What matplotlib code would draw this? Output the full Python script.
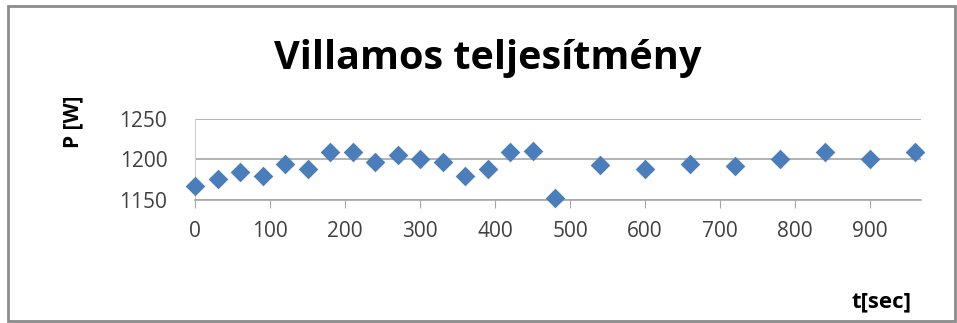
import matplotlib

matplotlib.use("Agg")

import matplotlib.pyplot as plt  # noqa: E402
from matplotlib.patches import Rectangle  # noqa: E402

# mérési adatok
t_sec = [0, 30, 60, 90, 120, 150, 180, 210, 240, 270, 300, 330, 360, 390,
         420, 450, 480, 540, 600, 660, 720, 780, 840, 900, 960]
p_watt = [1167, 1176, 1184, 1180, 1194, 1188, 1209, 1209, 1197, 1206, 1200,
          1197, 1180, 1188, 1209, 1210, 1153, 1193, 1188, 1194, 1192, 1200,
          1209, 1200, 1209]
x_ticks = [0, 100, 200, 300, 400, 500, 600, 700, 800, 900]
y_ticks = [1150, 1200, 1250]

_BLUE = "#4a7ebb"
_GRID = "#a6a6a6"
_TICK = "#404040"

plt.rcParams["font.family"] = ["Open Sans", "DejaVu Sans"]

fig = plt.figure(figsize=(9.57, 3.23), dpi=100)
ax = fig.add_axes([195 / 957, 1 - 200 / 323, (921 - 195) / 957, 81 / 323])

ax.scatter(t_sec, p_watt, marker="D", s=100, color=_BLUE, zorder=3,
           linewidths=0, clip_on=False)

ax.set_xlim(0, 968)
ax.set_ylim(1150, 1250)
ax.set_xticks(x_ticks)
ax.set_yticks(y_ticks)
ax.grid(axis="y", color=_GRID, linewidth=1.2)
for s in ("top", "right"):
    ax.spines[s].set_visible(False)
ax.spines["left"].set_color("#d0d0d0")
ax.spines["bottom"].set_color(_GRID)
ax.spines["bottom"].set_linewidth(1.2)
ax.tick_params(axis="x", direction="out", length=6, color=_GRID,
               labelsize=15, labelcolor=_TICK, pad=9)
ax.tick_params(axis="y", length=0, labelsize=15, labelcolor=_TICK, pad=20)

fig.text(488 / 957, 1 - 58 / 323, "Villamos teljesítmény", ha="center",
         va="center", fontsize=28.5, fontweight="bold")
fig.text(73 / 957, 1 - 122 / 323, "P [W]", ha="center", va="center",
         rotation=90, fontsize=15, fontweight="bold")
fig.text(882 / 957, 1 - 302 / 323, "t[sec]", ha="center", va="center",
         fontsize=16, fontweight="bold")

fig.patches.append(Rectangle((8 / 957, 2 / 323), 947 / 957, 315 / 323,
                             transform=fig.transFigure, fill=False,
                             edgecolor="#8c8c8c", linewidth=2))

fig.savefig("out.png", dpi=100)
